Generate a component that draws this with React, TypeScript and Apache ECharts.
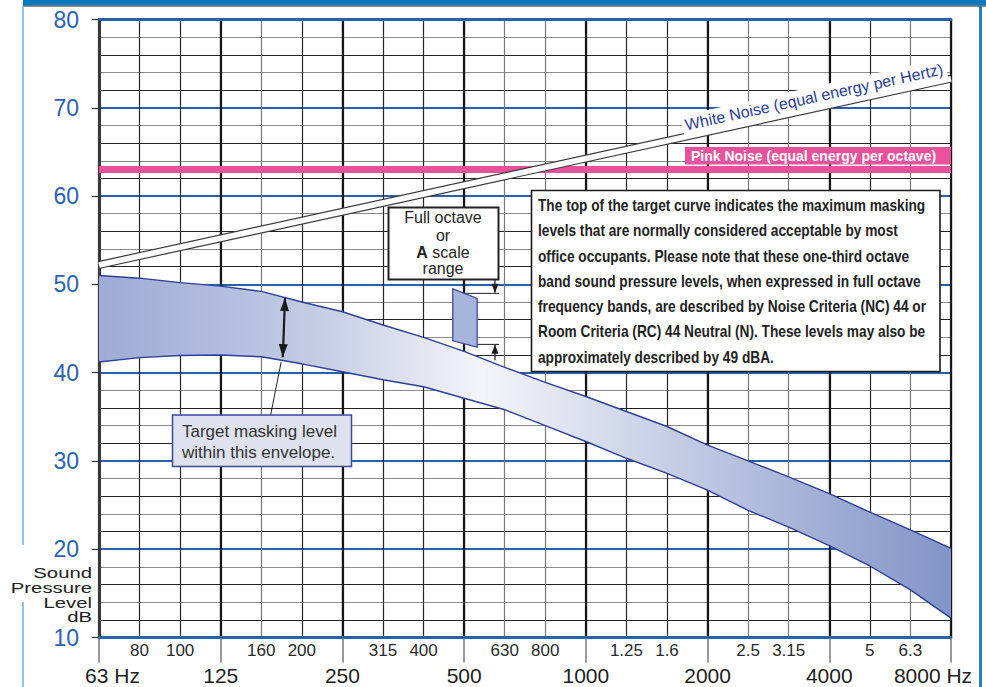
import React, { useEffect, useRef } from 'react';
import * as echarts from 'echarts';

// One-third octave band centre frequencies (x = band index 0..21)
const bandLabels = ['63', '80', '100', '125', '160', '200', '250', '315', '400', '500', '630', '800', '1000', '1.25', '1.6', '2000', '2.5', '3.15', '4000', '5', '6.3', '8000'];
const octaveLabels: Record<number, string> = { 0: '63 Hz', 3: '125', 6: '250', 9: '500', 12: '1000', 15: '2000', 18: '4000', 21: '8000 Hz' };
const yTickValues = [10, 20, 30, 40, 50, 60, 70, 80];

// Target masking envelope (dB) per 1/3 octave band
const upperEnvelope = [51.0, 50.7, 50.2, 49.8, 49.2, 48.0, 46.9, 45.4, 44.0, 42.4, 40.6, 38.9, 37.3, 35.6, 33.9, 31.8, 30.0, 28.2, 26.3, 24.2, 22.2, 20.1];
const lowerEnvelope = [41.2, 41.7, 41.95, 42.0, 41.8, 41.0, 40.1, 39.2, 38.4, 37.1, 35.8, 34.0, 32.2, 30.3, 28.6, 26.7, 24.4, 22.5, 20.4, 18.1, 15.4, 12.2];

// Reference noise spectra [band index, dB]
const whiteNoise = [[0, 52.2], [21, 73.3]];
const pinkNoise = [[0, 63], [21, 63]];

// Full-octave (A scale) range marker [band index, dB]
const octaveBox = [[8.72, 49.5], [9.32, 48.4], [9.32, 42.9], [8.72, 43.6]];
const octaveTopLine = [[9.0, 48.98], [9.86, 48.98]];
const octaveTopArrow = [[9.76, 51.4], [9.76, 49.05]];
const octaveBottomLine = [[9.07, 43.2], [9.86, 43.2]];
const octaveBottomArrow = [[9.76, 41.4], [9.76, 43.15]];
const envelopeArrow = [[4.585, 48.45], [4.53, 41.75]];
const envelopePointer = [[4.49, 41.2], [4.23, 35.2]];

const noteLines = [
  'The top of the target curve indicates the maximum masking',
  'levels that are normally considered acceptable by most',
  'office occupants. Please note that these one-third octave',
  'band sound pressure levels, when expressed in full octave',
  'frequency bands, are described by Noise Criteria (NC) 44 or',
  'Room Criteria (RC) 44 Neutral (N). These levels may also be',
  'approximately described by 49 dBA.',
];
const targetLines = ['Target masking level', 'within this envelope.'];
const yAxisTitle = ['Sound', 'Pressure', 'Level', 'dB'];

const BLUE = '#2a5fab';
const SANS = "'Liberation Sans', Arial, sans-serif";

function head(tip: number[], from: number[], len: number, hw: number) {
  const dx = tip[0] - from[0];
  const dy = tip[1] - from[1];
  const d = Math.sqrt(dx * dx + dy * dy) || 1;
  const ux = dx / d, uy = dy / d;
  const bx = tip[0] - ux * len, by = tip[1] - uy * len;
  return [tip, [bx - uy * hw, by + ux * hw], [bx + uy * hw, by - ux * hw]];
}

export default function App() {
  const ref = useRef<HTMLDivElement>(null);
  useEffect(() => {
    if (!ref.current) return;
    const chart = echarts.init(ref.current, undefined, { renderer: 'svg' });

    const minorColors = bandLabels.map((_, i) => {
      if (i % 3 === 0) return '#111';
      return [4, 10, 11, 16, 17, 20].includes(i) ? '#7a7a7a' : '#262626';
    });

    const envelopeFill = new echarts.graphic.LinearGradient(0, 0, 1, 0, [
      { offset: 0, color: '#9dabd6' },
      { offset: 0.25, color: '#c3cbe4' },
      { offset: 0.45, color: '#f4f5fa' },
      { offset: 0.7, color: '#c0c9e3' },
      { offset: 1, color: '#8194c8' },
    ]);

    const option: any = {
      animation: false,
      backgroundColor: '#fff',
      grid: { left: 99, right: 35, top: 19.5, bottom: 49.5, containLabel: false },
      xAxis: [
        {
          type: 'value', min: 0, max: 21, interval: 1, position: 'bottom',
          axisLine: { show: true, onZero: false, lineStyle: { color: BLUE, width: 3 } },
          axisTick: { show: false },
          splitLine: { show: true, lineStyle: { color: minorColors, width: 1.2 } },
          axisLabel: {
            show: true, margin: 4, fontSize: 17, color: '#2a2a2a', fontFamily: SANS,
            showMinLabel: true, showMaxLabel: true,
            formatter: (v: number) => (v % 3 === 0 ? '' : bandLabels[v] || ''),
          },
        },
        {
          type: 'value', min: 0, max: 21, interval: 3, position: 'bottom',
          axisLine: { show: false, onZero: false },
          axisTick: { show: true, length: 25, lineStyle: { color: '#777', width: 1.5 } },
          splitLine: { show: true, lineStyle: { color: '#151515', width: 2.2 } },
          axisLabel: {
            show: true, margin: 27, fontSize: 21, color: '#1e1e1e', fontFamily: SANS,
            showMinLabel: true, showMaxLabel: true,
            formatter: (v: number) => {
              if (v === 0) return '{l|' + octaveLabels[0] + '}';
              if (v === 21) return '{r|' + octaveLabels[21] + '}';
              return octaveLabels[v] || '';
            },
            rich: {
              l: { fontSize: 21, color: '#1e1e1e', fontFamily: SANS, padding: [0, 0, 0, 27] },
              r: { fontSize: 21, color: '#1e1e1e', fontFamily: SANS, padding: [0, 36, 0, 0] },
            },
          },
        },
        {
          type: 'value', min: 0, max: 21, position: 'top',
          axisLine: { show: true, onZero: false, lineStyle: { color: BLUE, width: 3 } },
          axisTick: { show: false }, axisLabel: { show: false }, splitLine: { show: false },
        },
      ],
      yAxis: [
        {
          type: 'value', min: 10, max: 80, interval: 2, position: 'left',
          axisLine: { show: true, onZero: false, lineStyle: { color: '#3a3a3a', width: 3 } },
          axisTick: { show: false }, axisLabel: { show: false },
          splitLine: { show: true, lineStyle: { color: [BLUE, '#222', '#8a8a8a', '#222', '#8a8a8a'], width: 1.2 } },
        },
        {
          type: 'value', min: 10, max: 80, interval: 10, position: 'left',
          axisLine: { show: false },
          axisTick: { show: true, length: 7, lineStyle: { color: '#333', width: 1.2 } },
          splitLine: { show: true, lineStyle: { color: BLUE, width: 2 } },
          axisLabel: {
            show: true, margin: 20, fontSize: 23, color: '#2b63b4', fontFamily: SANS,
            formatter: (v: number) => (yTickValues.includes(v) ? String(v) : ''),
          },
        },
      ],
      series: [
        {
          type: 'custom', name: 'envelope', coordinateSystem: 'cartesian2d', xAxisIndex: 0, yAxisIndex: 0,
          data: [[0, 0]], z: 2, silent: true,
          renderItem: (_p: any, api: any) => {
            const pts: number[][] = [];
            upperEnvelope.forEach((v, i) => pts.push(api.coord([i, v])));
            for (let i = lowerEnvelope.length - 1; i >= 0; i--) pts.push(api.coord([i, lowerEnvelope[i]]));
            return { type: 'polygon', shape: { points: pts }, style: { fill: envelopeFill, stroke: 'none' } };
          },
        },
        {
          type: 'line', name: 'upper', xAxisIndex: 0, yAxisIndex: 0, z: 3, symbol: 'none',
          data: upperEnvelope.map((v, i) => [i, v]),
          lineStyle: { color: '#2d3f98', width: 1.4 },
        },
        {
          type: 'line', name: 'lower', xAxisIndex: 0, yAxisIndex: 0, z: 3, symbol: 'none',
          data: lowerEnvelope.map((v, i) => [i, v]),
          lineStyle: { color: '#2d3f98', width: 1.4 },
        },
        {
          type: 'line', name: 'pink', xAxisIndex: 0, yAxisIndex: 0, z: 4, symbol: 'none', clip: false,
          data: pinkNoise, lineStyle: { color: '#e8519b', width: 7, cap: 'butt' },
        },
        {
          type: 'line', name: 'whiteEdge', xAxisIndex: 0, yAxisIndex: 0, z: 5, symbol: 'none', clip: false,
          data: whiteNoise, lineStyle: { color: '#3a3a3a', width: 8, cap: 'butt' },
        },
        {
          type: 'line', name: 'white', xAxisIndex: 0, yAxisIndex: 0, z: 6, symbol: 'none', clip: false,
          data: whiteNoise, lineStyle: { color: '#ffffff', width: 5.6, cap: 'butt' },
        },
        {
          type: 'custom', name: 'annotations', coordinateSystem: 'cartesian2d', xAxisIndex: 0, yAxisIndex: 0,
          data: [[0, 0]], z: 7, silent: true, clip: false,
          renderItem: (_p: any, api: any) => {
            const c = (p: number[]) => api.coord(p);
            const children: any[] = [];
            const line = (a: number[][], w: number, col: string) => children.push({
              type: 'line', shape: { x1: c(a[0])[0], y1: c(a[0])[1], x2: c(a[1])[0], y2: c(a[1])[1] },
              style: { stroke: col, lineWidth: w },
            });
            const arrow = (a: number[][], len: number, hw: number, w: number, both: boolean) => {
              const p0 = c(a[0]), p1 = c(a[1]);
              children.push({ type: 'line', shape: { x1: p0[0], y1: p0[1], x2: p1[0], y2: p1[1] }, style: { stroke: '#1a1a1a', lineWidth: w } });
              children.push({ type: 'polygon', shape: { points: head(p1, p0, len, hw) }, style: { fill: '#1a1a1a' } });
              if (both) children.push({ type: 'polygon', shape: { points: head(p0, p1, len, hw) }, style: { fill: '#1a1a1a' } });
            };
            line(octaveTopLine, 1, '#222');
            line(octaveBottomLine, 1, '#222');
            children.push({
              type: 'polygon', shape: { points: octaveBox.map(c) },
              style: { fill: '#a7b3da', stroke: '#3d4c9c', lineWidth: 1.3 },
            });
            arrow(octaveTopArrow, 9, 3.5, 1.2, false);
            arrow(octaveBottomArrow, 9, 3.5, 1.2, false);
            arrow(envelopeArrow, 13, 4.5, 2.2, true);
            line(envelopePointer, 1, '#222');
            return { type: 'group', children };
          },
        },
      ],
      graphic: [
        // frame
        { type: 'rect', shape: { x: 23, y: 0, width: 963, height: 5.5 }, style: { fill: '#0079c1' }, z: 100 },
        { type: 'line', shape: { x1: 23, y1: 6, x2: 986, y2: 6 }, style: { stroke: '#1c2a38', lineWidth: 1.2 }, z: 100 },
        { type: 'line', shape: { x1: 23, y1: 6, x2: 23, y2: 545 }, style: { stroke: '#6ab3e3', lineWidth: 1.5 }, z: 100 },
        { type: 'line', shape: { x1: 23, y1: 602, x2: 23, y2: 687 }, style: { stroke: '#6ab3e3', lineWidth: 1.5 }, z: 100 },
        { type: 'line', shape: { x1: 980.5, y1: 6, x2: 980.5, y2: 687 }, style: { stroke: '#1479c4', lineWidth: 2.8 }, z: 100 },
        // y axis title
        ...yAxisTitle.map((t, i) => ({
          type: 'text', x: 92, y: [573, 588, 603, 617][i], scaleX: 1.4, z: 100,
          style: { text: t, fill: '#222', font: `14.5px ${SANS}`, align: 'right', verticalAlign: 'middle' },
        })),
        // white noise label
        {
          type: 'text', x: 814, y: 97, rotation: 0.215, z: 100,
          style: {
            text: 'White Noise (equal energy per Hertz)', fill: '#2b3d96', font: `16px ${SANS}`,
            align: 'center', verticalAlign: 'middle', backgroundColor: '#fff', padding: [1, 3, 3, 3],
          },
        },
        // pink noise label
        { type: 'rect', shape: { x: 685, y: 147, width: 266, height: 17.5 }, style: { fill: '#e8519b' }, z: 100 },
        {
          type: 'text', x: 691, y: 156, z: 101,
          style: { text: 'Pink Noise (equal energy per octave)', fill: '#fff', font: `bold 14px ${SANS}`, align: 'left', verticalAlign: 'middle' },
        },
        // note box
        { type: 'rect', shape: { x: 531.5, y: 190.5, width: 408.5, height: 181 }, style: { fill: '#fff', stroke: '#1a1a1a', lineWidth: 1.6 }, z: 100 },
        ...noteLines.map((t, i) => ({
          type: 'text', x: 538, y: 205 + i * 25.3, z: 101, scaleX: 0.83,
          style: { text: t, fill: '#222', font: `bold 16.5px ${SANS}`, align: 'left', verticalAlign: 'middle' },
        })),
        // full octave box
        { type: 'rect', shape: { x: 388.5, y: 207.5, width: 110, height: 72 }, style: { fill: '#fff', stroke: '#222', lineWidth: 2 }, z: 100 },
        {
          type: 'text', x: 443, y: 217, z: 101,
          style: { text: 'Full octave', fill: '#222', font: `16px ${SANS}`, align: 'center', verticalAlign: 'middle' },
        },
        {
          type: 'text', x: 443, y: 235, z: 101,
          style: { text: 'or', fill: '#222', font: `16px ${SANS}`, align: 'center', verticalAlign: 'middle' },
        },
        {
          type: 'text', x: 443, y: 252, z: 101,
          style: {
            text: '{b|A} scale', fill: '#222', font: `16px ${SANS}`, align: 'center', verticalAlign: 'middle',
            rich: { b: { font: `bold 16px ${SANS}`, fill: '#222' } },
          },
        },
        {
          type: 'text', x: 443, y: 268, z: 101,
          style: { text: 'range', fill: '#222', font: `16px ${SANS}`, align: 'center', verticalAlign: 'middle' },
        },
        // target box
        { type: 'rect', shape: { x: 172.5, y: 415, width: 179, height: 51.5 }, style: { fill: '#dde2ee', stroke: '#3a4a99', lineWidth: 1.5 }, z: 100 },
        ...targetLines.map((t, i) => ({
          type: 'text', x: 182, y: 431 + i * 21, z: 101,
          style: { text: t, fill: '#333', font: `17px ${SANS}`, align: 'left', verticalAlign: 'middle' },
        })),
      ],
    };
    chart.setOption(option);
    return () => chart.dispose();
  }, []);
  return <div ref={ref} style={{ position: 'fixed', left: 0, top: 0, width: 986, height: 687, background: '#fff' }} />;
}
